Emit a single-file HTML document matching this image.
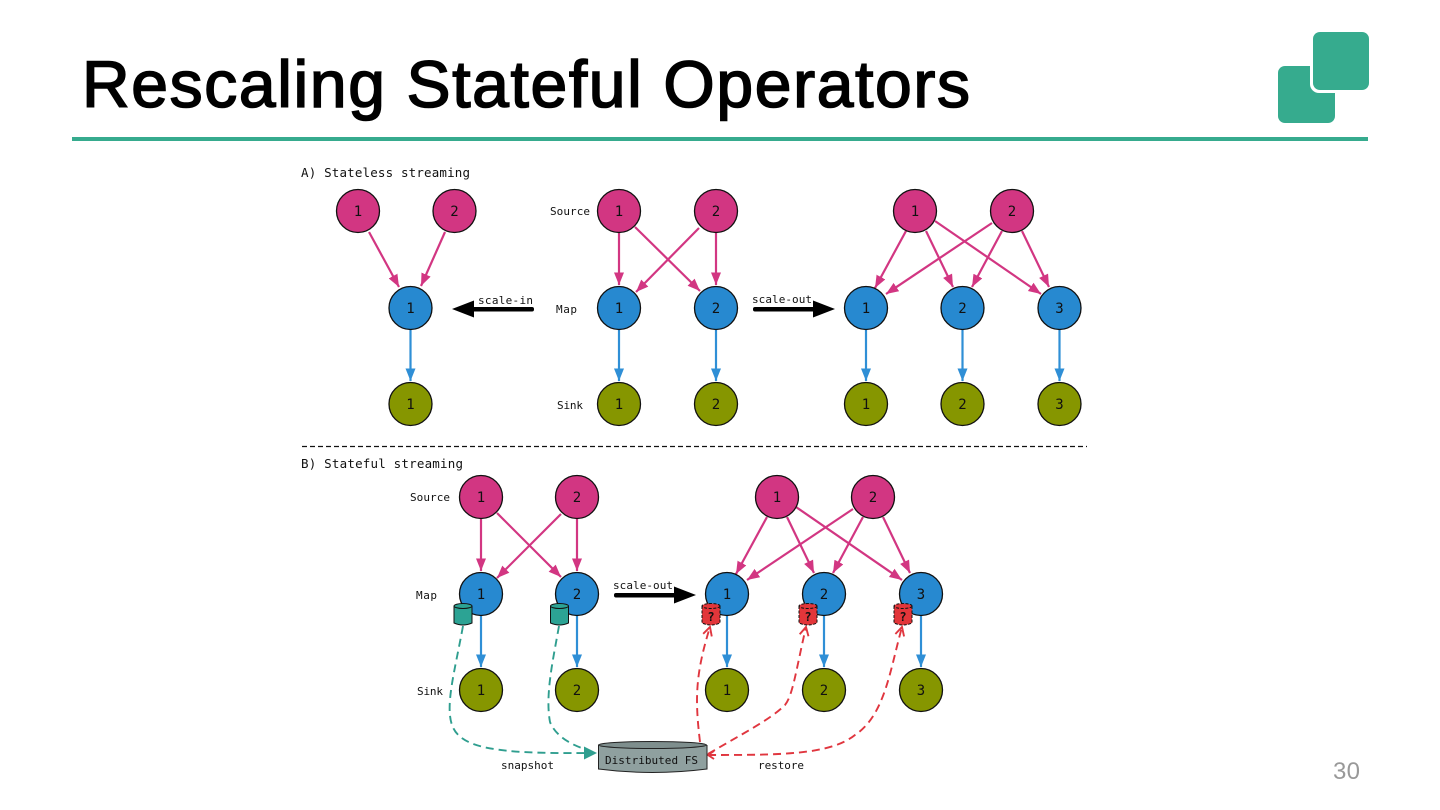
<!DOCTYPE html>
<html><head><meta charset="utf-8"><style>
html,body{margin:0;padding:0;background:#fff}
svg{display:block}
.m{font-family:"DejaVu Sans Mono","Liberation Mono",monospace;fill:#111}
.n{font-family:"DejaVu Sans Mono","Liberation Mono",monospace;font-size:14px;fill:#111;text-anchor:middle}
.p{fill:#d23682;stroke:#111;stroke-width:1.3}
.b{fill:#2789d0;stroke:#111;stroke-width:1.3}
.g{fill:#869600;stroke:#111;stroke-width:1.3}
.pe{stroke:#d23682;stroke-width:2.2;fill:none;marker-end:url(#hp)}
.be{stroke:#2f8fd6;stroke-width:2.2;fill:none;marker-end:url(#hb)}
.te{stroke:#2f9e8f;stroke-width:1.9;fill:none;stroke-dasharray:8 5}
.re{stroke:#e0363f;stroke-width:1.9;fill:none;stroke-dasharray:8 5}
.ra{marker-end:url(#hr)}
</style></head><body>
<svg width="1440" height="810" viewBox="0 0 1440 810" xmlns="http://www.w3.org/2000/svg">
<defs>
<marker id="hp" markerUnits="userSpaceOnUse" markerWidth="14" markerHeight="12" refX="12.5" refY="5.5" orient="auto"><path d="M0,0.5L12.5,5.5L0,10.5Z" fill="#d23682"/></marker>
<marker id="hb" markerUnits="userSpaceOnUse" markerWidth="14" markerHeight="12" refX="12.5" refY="5.5" orient="auto"><path d="M0,0.5L12.5,5.5L0,10.5Z" fill="#2f8fd6"/></marker>
<marker id="hr" markerUnits="userSpaceOnUse" markerWidth="12" markerHeight="12" refX="9.5" refY="6" orient="auto"><path d="M1,1.5L9.5,6L1,10.5" fill="none" stroke="#e0363f" stroke-width="1.9"/></marker>
</defs>
<rect width="1440" height="810" fill="#fff"/>
<text x="82" y="107" font-family="Liberation Sans, sans-serif" font-size="66" fill="#000" stroke="#000" stroke-width="1.6" textLength="888" lengthAdjust="spacing">Rescaling Stateful Operators</text>
<rect x="72" y="137" width="1296" height="4" fill="#36ab8e"/>
<rect x="1278" y="66" width="57" height="57" rx="7" fill="#36ab8e"/>
<rect x="1310" y="32" width="59" height="61" rx="9" fill="#fff"/>
<rect x="1313" y="32" width="56" height="58" rx="7" fill="#36ab8e"/>
<text x="1333" y="779" font-family="Liberation Sans, sans-serif" font-size="24" fill="#999" textLength="27">30</text>

<text class="m" x="301" y="177" font-size="12.5" textLength="169">A) Stateless streaming</text>
<text class="m" x="301" y="468" font-size="12.5" textLength="162">B) Stateful streaming</text>
<line x1="302" y1="446.5" x2="1087" y2="446.5" stroke="#111" stroke-width="1.2" stroke-dasharray="5 3"/>

<!-- edges A left -->
<line class="pe" x1="369" y1="232" x2="399" y2="287"/>
<line class="pe" x1="445" y1="232" x2="421" y2="286"/>
<line class="be" x1="410.5" y1="330" x2="410.5" y2="381"/>
<!-- edges A mid -->
<line class="pe" x1="619" y1="232" x2="619" y2="285"/>
<line class="pe" x1="716" y1="232" x2="716" y2="285"/>
<line class="pe" x1="635" y1="227" x2="700" y2="291"/>
<line class="pe" x1="699" y1="228" x2="636" y2="292"/>
<line class="be" x1="619" y1="330" x2="619" y2="381"/>
<line class="be" x1="716" y1="330" x2="716" y2="381"/>
<!-- edges A right -->
<line class="pe" x1="906" y1="231" x2="875" y2="288"/>
<line class="pe" x1="926" y1="231" x2="953" y2="287"/>
<line class="pe" x1="935" y1="221" x2="1041" y2="294"/>
<line class="pe" x1="992" y1="223" x2="886" y2="294"/>
<line class="pe" x1="1002" y1="231" x2="972" y2="287"/>
<line class="pe" x1="1022" y1="231" x2="1049" y2="287"/>
<line class="be" x1="866" y1="330" x2="866" y2="381"/>
<line class="be" x1="962.5" y1="330" x2="962.5" y2="381"/>
<line class="be" x1="1059.5" y1="330" x2="1059.5" y2="381"/>
<!-- edges B left -->
<line class="pe" x1="481" y1="518" x2="481" y2="571"/>
<line class="pe" x1="577" y1="518" x2="577" y2="571"/>
<line class="pe" x1="497" y1="513" x2="561" y2="577"/>
<line class="pe" x1="561" y1="514" x2="497" y2="578"/>
<line class="be" x1="481" y1="616" x2="481" y2="667"/>
<line class="be" x1="577" y1="616" x2="577" y2="667"/>
<!-- edges B right -->
<line class="pe" x1="767" y1="517" x2="736" y2="574"/>
<line class="pe" x1="787" y1="517" x2="814" y2="573"/>
<line class="pe" x1="796" y1="507" x2="902" y2="580"/>
<line class="pe" x1="853" y1="509" x2="747" y2="580"/>
<line class="pe" x1="863" y1="517" x2="833" y2="573"/>
<line class="pe" x1="883" y1="517" x2="910" y2="573"/>
<line class="be" x1="727" y1="616" x2="727" y2="667"/>
<line class="be" x1="824" y1="616" x2="824" y2="667"/>
<line class="be" x1="921" y1="616" x2="921" y2="667"/>

<!-- nodes -->
<g>
<circle class="p" cx="358" cy="211" r="21.5"/><circle class="p" cx="454.5" cy="211" r="21.5"/>
<circle class="b" cx="410.5" cy="308" r="21.5"/><circle class="g" cx="410.5" cy="404" r="21.5"/>
<circle class="p" cx="619" cy="211" r="21.5"/><circle class="p" cx="716" cy="211" r="21.5"/>
<circle class="b" cx="619" cy="308" r="21.5"/><circle class="b" cx="716" cy="308" r="21.5"/>
<circle class="g" cx="619" cy="404" r="21.5"/><circle class="g" cx="716" cy="404" r="21.5"/>
<circle class="p" cx="915" cy="211" r="21.5"/><circle class="p" cx="1012" cy="211" r="21.5"/>
<circle class="b" cx="866" cy="308" r="21.5"/><circle class="b" cx="962.5" cy="308" r="21.5"/><circle class="b" cx="1059.5" cy="308" r="21.5"/>
<circle class="g" cx="866" cy="404" r="21.5"/><circle class="g" cx="962.5" cy="404" r="21.5"/><circle class="g" cx="1059.5" cy="404" r="21.5"/>
<circle class="p" cx="481" cy="497" r="21.5"/><circle class="p" cx="577" cy="497" r="21.5"/>
<circle class="b" cx="481" cy="594" r="21.5"/><circle class="b" cx="577" cy="594" r="21.5"/>
<circle class="g" cx="481" cy="690" r="21.5"/><circle class="g" cx="577" cy="690" r="21.5"/>
<circle class="p" cx="777" cy="497" r="21.5"/><circle class="p" cx="873" cy="497" r="21.5"/>
<circle class="b" cx="727" cy="594" r="21.5"/><circle class="b" cx="824" cy="594" r="21.5"/><circle class="b" cx="921" cy="594" r="21.5"/>
<circle class="g" cx="727" cy="690" r="21.5"/><circle class="g" cx="824" cy="690" r="21.5"/><circle class="g" cx="921" cy="690" r="21.5"/>
</g>
<g>
<text class="n" x="358" y="216">1</text><text class="n" x="454.5" y="216">2</text><text class="n" x="410.5" y="313">1</text><text class="n" x="410.5" y="409">1</text>
<text class="n" x="619" y="216">1</text><text class="n" x="716" y="216">2</text><text class="n" x="619" y="313">1</text><text class="n" x="716" y="313">2</text><text class="n" x="619" y="409">1</text><text class="n" x="716" y="409">2</text>
<text class="n" x="915" y="216">1</text><text class="n" x="1012" y="216">2</text><text class="n" x="866" y="313">1</text><text class="n" x="962.5" y="313">2</text><text class="n" x="1059.5" y="313">3</text><text class="n" x="866" y="409">1</text><text class="n" x="962.5" y="409">2</text><text class="n" x="1059.5" y="409">3</text>
<text class="n" x="481" y="502">1</text><text class="n" x="577" y="502">2</text><text class="n" x="481" y="599">1</text><text class="n" x="577" y="599">2</text><text class="n" x="481" y="695">1</text><text class="n" x="577" y="695">2</text>
<text class="n" x="777" y="502">1</text><text class="n" x="873" y="502">2</text><text class="n" x="727" y="599">1</text><text class="n" x="824" y="599">2</text><text class="n" x="921" y="599">3</text><text class="n" x="727" y="695">1</text><text class="n" x="824" y="695">2</text><text class="n" x="921" y="695">3</text>
</g>

<!-- row labels -->
<text class="m" x="550" y="215" font-size="11" textLength="40">Source</text>
<text class="m" x="556" y="313" font-size="11" textLength="21">Map</text>
<text class="m" x="557" y="409" font-size="11" textLength="26">Sink</text>
<text class="m" x="410" y="501" font-size="11" textLength="40">Source</text>
<text class="m" x="416" y="599" font-size="11" textLength="21">Map</text>
<text class="m" x="417" y="695" font-size="11" textLength="26">Sink</text>

<!-- big arrows -->
<g fill="#000">
<rect x="470" y="307" width="64" height="4.5" rx="2"/><path d="M452,309L474,300.5V317.5Z"/>
<rect x="753" y="307" width="64" height="4.5" rx="2"/><path d="M835,309L813,300.5V317.5Z"/>
<rect x="614" y="593" width="64" height="4.5" rx="2"/><path d="M696,595L674,586.5V603.5Z"/>
</g>
<text class="m" x="478" y="304" font-size="11" textLength="55">scale-in</text>
<text class="m" x="752" y="303" font-size="11" textLength="60">scale-out</text>
<text class="m" x="613" y="589" font-size="11" textLength="60">scale-out</text>

<!-- dashed -->
<path class="te" d="M463,626C455,670 445,705 452,725C460,748 495,754 588,753"/>
<path class="te" d="M559,626C553,660 545,695 550,722C555,735 570,745 588,750"/>
<path d="M597,753L584,746.5V759.5Z" fill="#2f9e8f"/>
<path class="re ra" d="M700,742C695,700 695,675 710,627"/>
<path class="re ra" d="M708,754C740,735 770,720 785,705C793,695 796,670 806,627"/>
<path class="re ra" d="M708,755C780,755 830,755 855,735C885,715 890,670 902,627"/>
<path d="M714,751L708,755L714,759" fill="none" stroke="#e0363f" stroke-width="1.9"/>

<!-- teal cylinders -->
<g fill="#2ca394" stroke="#111" stroke-width="1">
<path d="M454,606V623Q463,627 472,623V606"/><ellipse cx="463" cy="606" rx="9" ry="2.5"/>
<path d="M550.5,606V623Q559.5,627 568.5,623V606"/><ellipse cx="559.5" cy="606" rx="9" ry="2.5"/>
</g>
<!-- red cylinders -->
<g fill="#e2363a" stroke="#111" stroke-width="1" stroke-dasharray="3 1.5">
<path d="M702,606V623Q711,627 720,623V606"/><ellipse cx="711" cy="606" rx="9" ry="2.5"/>
<path d="M799,606V623Q808,627 817,623V606"/><ellipse cx="808" cy="606" rx="9" ry="2.5"/>
<path d="M894,606V623Q903,627 912,623V606"/><ellipse cx="903" cy="606" rx="9" ry="2.5"/>
</g>
<g font-family="DejaVu Sans Mono, monospace" font-size="12" font-weight="bold" fill="#111" text-anchor="middle">
<text x="711" y="621">?</text><text x="808" y="621">?</text><text x="903" y="621">?</text>
</g>

<!-- Distributed FS -->
<path d="M598.5,745V769Q652,776 707,769V745" fill="#8fa09f" stroke="#222" stroke-width="1"/>
<ellipse cx="652.5" cy="745" rx="54" ry="3.5" fill="#7e8e8d" stroke="#222" stroke-width="1"/>
<text class="m" x="605" y="764" font-size="11" textLength="93">Distributed FS</text>
<text class="m" x="501" y="769" font-size="11" textLength="53">snapshot</text>
<text class="m" x="758" y="769" font-size="11" textLength="46">restore</text>
</svg>
</body></html>
